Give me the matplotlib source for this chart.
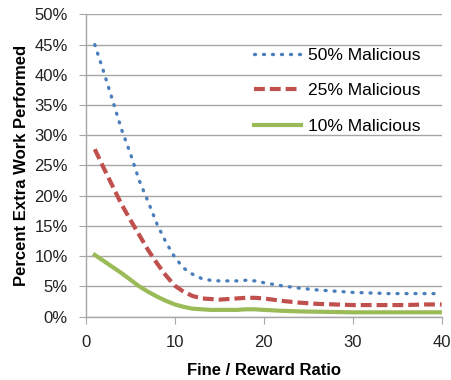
import numpy as np
import matplotlib.pyplot as plt
from matplotlib.ticker import FuncFormatter

# Valores (porcentaje de trabajo extra)
ratio = [1, 2, 3, 4, 5, 6, 7, 8, 9, 10, 11, 12, 13, 14, 15, 16, 17, 18, 19, 20,
         22, 24, 26, 28, 30, 32, 34, 36, 38, 40]
mal_50 = [45.0, 40.5, 35.8, 31.0, 27.0, 22.5, 19.0, 15.3, 12.3, 9.8, 8.0, 7.0, 6.3, 6.0, 5.9,
          5.9, 5.9, 6.0, 5.9, 5.6, 5.1, 4.7, 4.4, 4.2, 4.0, 3.9, 3.8, 3.8, 3.8, 3.8]
mal_25 = [27.7, 24.6, 21.6, 18.6, 16.0, 13.5, 11.0, 8.8, 6.8, 5.1, 4.1, 3.4, 3.0, 2.9, 2.8,
          2.9, 3.0, 3.1, 3.1, 3.0, 2.6, 2.3, 2.1, 2.0, 1.9, 1.9, 1.9, 1.9, 2.0, 2.0]
mal_10 = [10.2, 9.2, 8.2, 7.2, 6.1, 5.0, 4.1, 3.3, 2.6, 2.0, 1.6, 1.3, 1.2, 1.1, 1.1,
          1.1, 1.1, 1.2, 1.2, 1.1, 0.95, 0.85, 0.8, 0.75, 0.7, 0.7, 0.7, 0.7, 0.7, 0.7]

plt.rcParams['font.family'] = ['Liberation Sans', 'DejaVu Sans']

fig = plt.figure(figsize=(4.52, 3.80), dpi=100)
ax = fig.add_axes([0.190, 0.167, 0.787, 0.795])

grid_c = '#a6a6a6'

ax.plot(ratio, mal_50, color='#4a7ebb', linewidth=2.4, linestyle=(0, (0.3, 2.4)),
        dash_capstyle='round', label='50% Malicious')
ax.plot(ratio, mal_25, color='#c0504d', linewidth=3.0, linestyle=(0, (2.6, 1.2)),
        label='25% Malicious')
ax.plot(ratio, mal_10, color='#9bbb59', linewidth=3.0, label='10% Malicious')

ax.set_xlim(0, 40)
ax.set_ylim(0, 50)
ax.set_xticks([0, 10, 20, 30, 40])
ax.set_yticks(np.arange(0, 51, 5))
ax.yaxis.set_major_formatter(FuncFormatter(lambda v, p: '%d%%' % v))

ax.grid(True, axis='y', color=grid_c, linewidth=1.0)
ax.set_axisbelow(True)
for s in ['top', 'right']:
    ax.spines[s].set_visible(False)
for s in ['left', 'bottom']:
    ax.spines[s].set_color(grid_c)
    ax.spines[s].set_linewidth(1.0)
ax.tick_params(axis='both', direction='out', length=5, color=grid_c, labelsize=12,
               labelcolor='#222222')
ax.tick_params(axis='x', pad=8)
ax.tick_params(axis='y', pad=8)

ax.set_xlabel('Fine / Reward Ratio', fontsize=12, fontweight='bold', labelpad=10)
ax.set_ylabel('Percent Extra Work Performed', fontsize=12, fontweight='bold', labelpad=4)

ax.legend(loc='upper right', bbox_to_anchor=(0.985, 0.94), frameon=False, fontsize=12.5,
          handlelength=2.7, handletextpad=0.4, labelspacing=1.15)

plt.savefig('out.png', dpi=100)
plt.close()
